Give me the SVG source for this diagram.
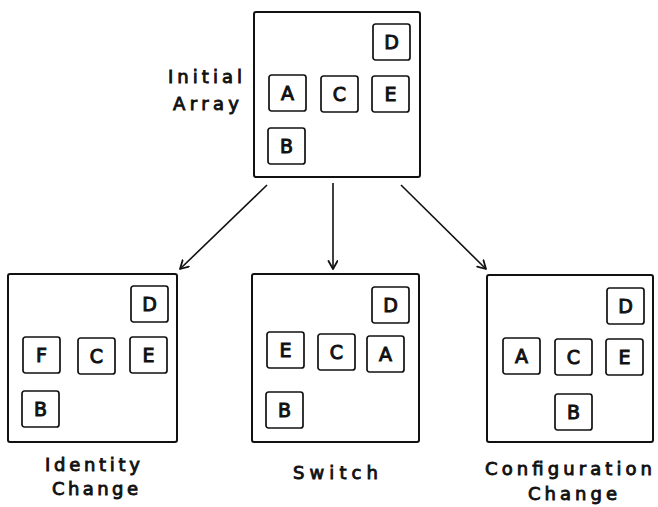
<svg xmlns="http://www.w3.org/2000/svg" width="658" height="507" viewBox="0 0 658 507">
  <style>
    .frame { fill: none; stroke: #111; stroke-width: 2; }
    .cell rect { fill: #fff; stroke: #111; stroke-width: 1.7; }
    .cell text { font-family: "DejaVu Sans", "Liberation Sans", sans-serif; font-size: 19px; fill: #111; stroke: #111; stroke-width: 1; text-anchor: middle; }
    .label { font-family: "DejaVu Sans", "Liberation Sans", sans-serif; font-size: 18px; fill: #111; stroke: #111; stroke-width: 0.9; }
    .edge { fill: none; stroke: #111; stroke-width: 1.6; marker-end: url(#head); }
  </style>
  <defs>
    <marker id="head" markerUnits="userSpaceOnUse" markerWidth="14" markerHeight="14" refX="9" refY="5" orient="auto">
      <path d="M1,0.5 L9,5 L1,9.5" fill="none" stroke="#111" stroke-width="1.8" stroke-linecap="round" stroke-linejoin="round"/>
    </marker>
  </defs>
  <rect width="658" height="507" fill="#fff"/>

  <!-- top: initial array -->
  <g id="initial">
    <rect class="frame" x="254" y="12" width="166" height="165" rx="2"/>
    <text class="label" x="168" y="83" textLength="74" lengthAdjust="spacing">Initial</text>
    <text class="label" x="173" y="110" textLength="66" lengthAdjust="spacing">Array</text>
    <g class="cell" transform="translate(373,24)"><rect width="37" height="36" rx="2.5"/><text x="18.5" y="25">D</text></g>
    <g class="cell" transform="translate(269,75)"><rect width="37" height="36" rx="2.5"/><text x="18.5" y="25">A</text></g>
    <g class="cell" transform="translate(321,76)"><rect width="37" height="36" rx="2.5"/><text x="18.5" y="25">C</text></g>
    <g class="cell" transform="translate(372,76)"><rect width="37" height="36" rx="2.5"/><text x="18.5" y="25">E</text></g>
    <g class="cell" transform="translate(268,128)"><rect width="37" height="36" rx="2.5"/><text x="18.5" y="25">B</text></g>
  </g>

  <!-- bottom left: identity change -->
  <g id="identity">
    <rect class="frame" x="8" y="274" width="169" height="168" rx="2"/>
    <text class="label" x="45" y="471" textLength="95" lengthAdjust="spacing">Identity</text>
    <text class="label" x="52" y="495" textLength="86" lengthAdjust="spacing">Change</text>
    <g class="cell" transform="translate(131,286)"><rect width="37" height="36" rx="2.5"/><text x="18.5" y="25">D</text></g>
    <g class="cell" transform="translate(23,337)"><rect width="37" height="36" rx="2.5"/><text x="18.5" y="25">F</text></g>
    <g class="cell" transform="translate(78,338)"><rect width="37" height="36" rx="2.5"/><text x="18.5" y="25">C</text></g>
    <g class="cell" transform="translate(130,337)"><rect width="37" height="36" rx="2.5"/><text x="18.5" y="25">E</text></g>
    <g class="cell" transform="translate(22,391)"><rect width="37" height="36" rx="2.5"/><text x="18.5" y="25">B</text></g>
  </g>

  <!-- bottom middle: switch -->
  <g id="switch">
    <rect class="frame" x="252" y="274" width="167" height="168" rx="2"/>
    <text class="label" x="293" y="479" textLength="85" lengthAdjust="spacing">Switch</text>
    <g class="cell" transform="translate(372,287)"><rect width="37" height="36" rx="2.5"/><text x="18.5" y="25">D</text></g>
    <g class="cell" transform="translate(267,332)"><rect width="37" height="36" rx="2.5"/><text x="18.5" y="25">E</text></g>
    <g class="cell" transform="translate(318,334)"><rect width="37" height="36" rx="2.5"/><text x="18.5" y="25">C</text></g>
    <g class="cell" transform="translate(367,336)"><rect width="37" height="36" rx="2.5"/><text x="18.5" y="25">A</text></g>
    <g class="cell" transform="translate(266,392)"><rect width="37" height="36" rx="2.5"/><text x="18.5" y="25">B</text></g>
  </g>

  <!-- bottom right: configuration change -->
  <g id="configuration">
    <rect class="frame" x="487" y="275" width="166" height="167" rx="2"/>
    <text class="label" x="485" y="475" textLength="167" lengthAdjust="spacing">Configuration</text>
    <text class="label" x="528" y="500" textLength="89" lengthAdjust="spacing">Change</text>
    <g class="cell" transform="translate(607,288)"><rect width="37" height="36" rx="2.5"/><text x="18.5" y="25">D</text></g>
    <g class="cell" transform="translate(503,338)"><rect width="37" height="36" rx="2.5"/><text x="18.5" y="25">A</text></g>
    <g class="cell" transform="translate(555,339)"><rect width="37" height="36" rx="2.5"/><text x="18.5" y="25">C</text></g>
    <g class="cell" transform="translate(606,339)"><rect width="37" height="36" rx="2.5"/><text x="18.5" y="25">E</text></g>
    <g class="cell" transform="translate(555,394)"><rect width="37" height="36" rx="2.5"/><text x="18.5" y="25">B</text></g>
  </g>

  <!-- connectors -->
  <g id="connectors">
    <line class="edge" x1="267" y1="185" x2="180" y2="269"/>
    <line class="edge" x1="333" y1="183" x2="333" y2="269"/>
    <line class="edge" x1="401" y1="185" x2="486" y2="269"/>
  </g>
</svg>
